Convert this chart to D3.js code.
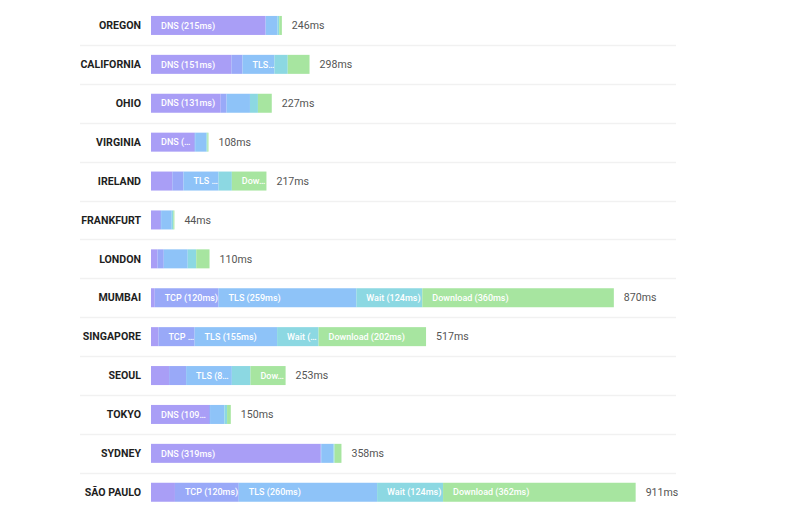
<!DOCTYPE html>
<html>
<head>
<meta charset="utf-8">
<script src="https://cdn.jsdelivr.net/npm/d3@7/dist/d3.min.js"></script>
<style>
  html, body { margin: 0; padding: 0; background: #fff; }
  svg { display: block; font-family: Roboto, "Noto Sans", sans-serif; }
</style>
</head>
<body>
<svg id="chart" width="800" height="517"></svg>
<script>
const cities = ["OREGON","CALIFORNIA","OHIO","VIRGINIA","IRELAND","FRANKFURT","LONDON","MUMBAI","SINGAPORE","SEOUL","TOKYO","SYDNEY","SÃO PAULO"];
const phases = ["DNS","TCP","TLS","Wait","Download"];
const dns      = [215, 151, 131, 81, 40, 17, 12,   7,  14, 34, 109, 319,  45];
const tcp      = [  1,  21,  11,  2, 21,  2, 12, 120,  68, 32,   2,   1, 120];
const tls      = [ 22,  60,  44, 21, 66, 20, 45, 259, 155, 86,  27,  23, 260];
const wait     = [  3,  25,  15,  2, 25,  3, 16, 124,  78, 35,   5,   2, 124];
const download = [  5,  41,  26,  2, 65,  2, 25, 360, 202, 66,   7,  13, 362];
const phaseColors = ["#a99ef6", "#99a9f8", "#8ec3f8", "#8cd8e2", "#a7e5a0"];

const series = [dns, tcp, tls, wait, download];
const rows = cities.map((c, i) => {
  const vals = series.map(s => s[i]);
  return { city: c, vals, total: d3.sum(vals) };
});

const svg = d3.select("#chart");
const y = d3.scaleBand().domain(cities).range([6, 6 + 38.9 * cities.length]).padding(0);
const x = d3.scaleLinear().domain([0, 911]).range([151, 151 + 911 * 0.532]);
const color = d3.scaleOrdinal().domain(phases).range(phaseColors);
const barH = 19;

// separators
svg.append("g").selectAll("line").data(cities.slice(1)).join("line")
  .attr("x1", 80).attr("x2", 676)
  .attr("y1", d => Math.round(y(d)) + 0.5).attr("y2", d => Math.round(y(d)) + 0.5)
  .attr("stroke", "#f1f1f1").attr("stroke-width", 1.5);

const g = svg.append("g").selectAll("g").data(rows).join("g")
  .attr("transform", d => `translate(0,${y(d.city) + y.bandwidth() / 2})`);

// city labels
g.append("text")
  .attr("x", 141).attr("y", 0).attr("dy", "0.35em")
  .attr("text-anchor", "end")
  .attr("font-size", 10.6).attr("font-weight", 700).attr("fill", "#1e1e1e")
  .text(d => d.city);

// segments
g.each(function(d) {
  const grp = d3.select(this);
  let acc = 0;
  d.vals.forEach((v, k) => {
    const x0 = x(acc), x1 = x(acc + v);
    acc += v;
    grp.append("rect")
      .attr("x", x0).attr("y", -barH / 2)
      .attr("width", Math.max(0, x1 - x0)).attr("height", barH)
      .attr("fill", color(phases[k]));
    const w = x1 - x0;
    if (w >= 28) {
      const full = `${phases[k]} (${v}ms)`;
      const t = grp.append("text")
        .attr("x", x0 + 10).attr("y", 0).attr("dy", "0.35em")
        .attr("font-size", 9).attr("font-weight", 500).attr("fill", "#fff")
        .text(full);
      const avail = w - 10;
      if (t.node().getComputedTextLength() > avail) {
        let s = full;
        while (s.length > 1) {
          s = s.slice(0, -1);
          t.text(s + "…");
          if (t.node().getComputedTextLength() <= avail + 1) break;
        }
      }
    }
  });
});

// totals
g.append("text")
  .attr("x", d => x(d.total) + 10).attr("y", 0).attr("dy", "0.35em")
  .attr("font-size", 10.6).attr("fill", "#555")
  .text(d => `${d.total}ms`);
</script>
</body>
</html>
